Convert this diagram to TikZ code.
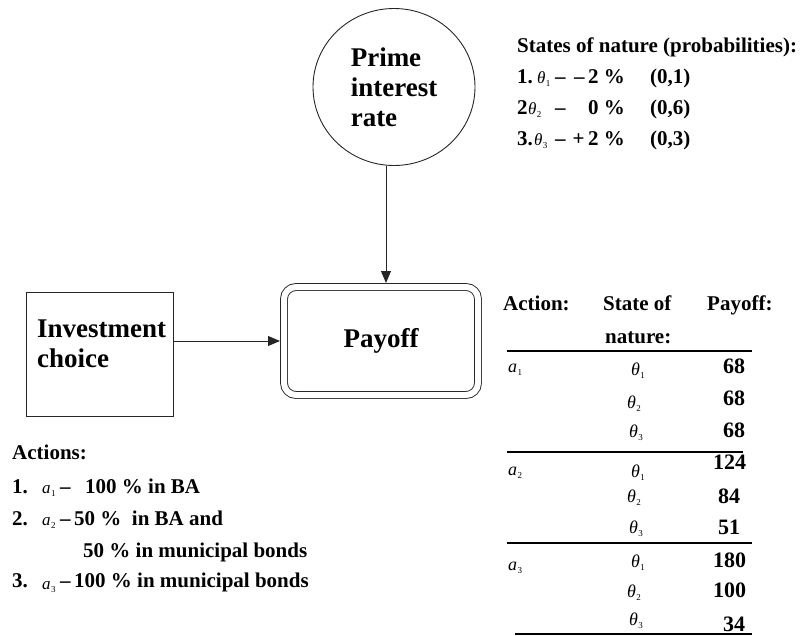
\documentclass[tikz,border=0pt]{standalone}
\usepackage{fontspec}
\setmainfont{Liberation Serif}
\usetikzlibrary{arrows.meta,shapes.geometric}
% italic symbol with a small lowered index
\newcommand\vsym[2]{{\normalfont\itshape #1}\kern0.3pt\raisebox{-3pt}{\normalfont\fontsize{9}{9}\selectfont #2}}
\begin{document}
\begin{tikzpicture}[x=1pt,y=-1pt,
  line/.style={draw=black!85, line width=0.9pt},
  arr/.style={line, -{Triangle[length=12pt,width=10pt]}},
  big/.style={font=\fontsize{27}{30}\selectfont\bfseries},
  txt/.style={font=\fontsize{21}{25}\selectfont\bfseries, inner sep=0pt, anchor=base west},
  num/.style={font=\fontsize{22}{25}\selectfont\bfseries, inner sep=0pt, anchor=base west},
  sym/.style={font=\fontsize{18}{18}\selectfont, inner sep=0pt, anchor=base west},
  ssym/.style={font=\fontsize{17}{17}\selectfont, inner sep=0pt, anchor=base west},
  rule/.style={draw=black, line width=1.1pt}]
\useasboundingbox (0,0) rectangle (809,635);

% chance node, decision node and value node
\node[ellipse, line, minimum width=162pt, minimum height=157pt, big, align=left, inner sep=0pt] (prime) at (394,87) {Prime\\interest\\rate};
\node[rectangle, rounded corners=12pt, line, double=white, double distance=6pt,
      minimum width=194pt, minimum height=108pt, outer sep=4pt, big] (payoff) at (381,341) {Payoff};
\node[line, minimum width=147pt, minimum height=124pt, inner sep=0pt] (inv) at (100,354) {};
\node[big, align=left, anchor=north west, inner sep=0pt] (invtext) at (37,320) {Investment\\choice};

\draw[arr] ([xshift=-8pt]prime.south) -- ([xshift=-8pt]prime.south |- payoff.north);
\draw[arr] (inv.east |- payoff.west) -- (payoff.west);

% states of nature
\node[txt] (sh) at (517,52) {States of nature (probabilities):};
\node[txt] (s1) at (517,83) {1.};
\node[ssym] (s1t) at (537,83) {\vsym{θ}{1}};
\node[txt] (s1d) at (555,83) {–};
\node[txt, anchor=base east] (s1v) at (625,83) {–\,2 \%};
\node[txt] (s1p) at (650,83) {(0,1)};
\node[txt] (s2) at (517,114) {2};
\node[ssym] (s2t) at (528,114) {\vsym{θ}{2}};
\node[txt] (s2d) at (555,114) {–};
\node[txt, anchor=base east] (s2v) at (625,114) {0 \%};
\node[txt] (s2p) at (650,114) {(0,6)};
\node[txt] (s3) at (517,145) {3.};
\node[ssym] (s3t) at (534,145) {\vsym{θ}{3}};
\node[txt] (s3d) at (555,145) {–};
\node[txt, anchor=base east] (s3v) at (625,145) {+\,2 \%};
\node[txt] (s3p) at (650,145) {(0,3)};

% actions
\node[txt] (ah) at (12,459) {Actions:};
\node[txt] (a1n) at (12,493) {1.};
\node[ssym] (a1s) at (42,493) {\vsym{a}{1}};
\node[txt] (a1d) at (60,493) {–};
\node[txt] (a1t) at (85,493) {100 \% in BA};
\node[txt] (a2n) at (12,525) {2.};
\node[ssym] (a2s) at (42,525) {\vsym{a}{2}};
\node[txt] (a2t) at (60,525) {–\,50 \%~ in BA and};
\node[txt] (a2u) at (83,557) {50 \% in municipal bonds};
\node[txt] (a3n) at (12,587) {3.};
\node[ssym] (a3s) at (42,589) {\vsym{a}{3}};
\node[txt] (a3t) at (60,587) {–\,100 \% in municipal bonds};

% payoff table
\node[txt] (hA) at (503,310) {Action:};
\node[txt] (hS) at (603,310) {State of};
\node[txt] (hN) at (605,343) {nature:};
\node[txt] (hP) at (707,310) {Payoff:};
\coordinate (r0a) at (507,351); \coordinate (r0b) at (752,351);
\coordinate (r1a) at (507,452); \coordinate (r1b) at (743,452);
\coordinate (r2a) at (507,543); \coordinate (r2b) at (752,543);
\coordinate (r3a) at (515,634); \coordinate (r3b) at (752,634);
\draw[rule] (r0a) -- (r0b);
\draw[rule] (r1a) -- (r1b);
\draw[rule] (r2a) -- (r2b);
\draw[rule] (r3a) -- (r3b);

\node[sym] (ta1) at (508,372) {\vsym{a}{1}};
\node[sym] (ta2) at (508,475) {\vsym{a}{2}};
\node[sym] (ta3) at (508,570) {\vsym{a}{3}};

\node[sym] (t11) at (631,375) {\vsym{θ}{1}};
\node[sym] (t12) at (627,408) {\vsym{θ}{2}};
\node[sym] (t13) at (629,437) {\vsym{θ}{3}};
\node[sym] (t21) at (631,477) {\vsym{θ}{1}};
\node[sym] (t22) at (627,502) {\vsym{θ}{2}};
\node[sym] (t23) at (629,533) {\vsym{θ}{3}};
\node[sym] (t31) at (631,567) {\vsym{θ}{1}};
\node[sym] (t32) at (627,597) {\vsym{θ}{2}};
\node[sym] (t33) at (629,625) {\vsym{θ}{3}};

\node[num] (p11) at (723,373) {68};
\node[num] (p12) at (723,405) {68};
\node[num] (p13) at (723,437) {68};
\node[num] (p21) at (713,469) {124};
\node[num] (p22) at (718,503) {84};
\node[num] (p23) at (718,534) {51};
\node[num] (p31) at (713,567) {180};
\node[num] (p32) at (713,597) {100};
\node[num] (p33) at (723,631) {34};
\end{tikzpicture}
\end{document}
